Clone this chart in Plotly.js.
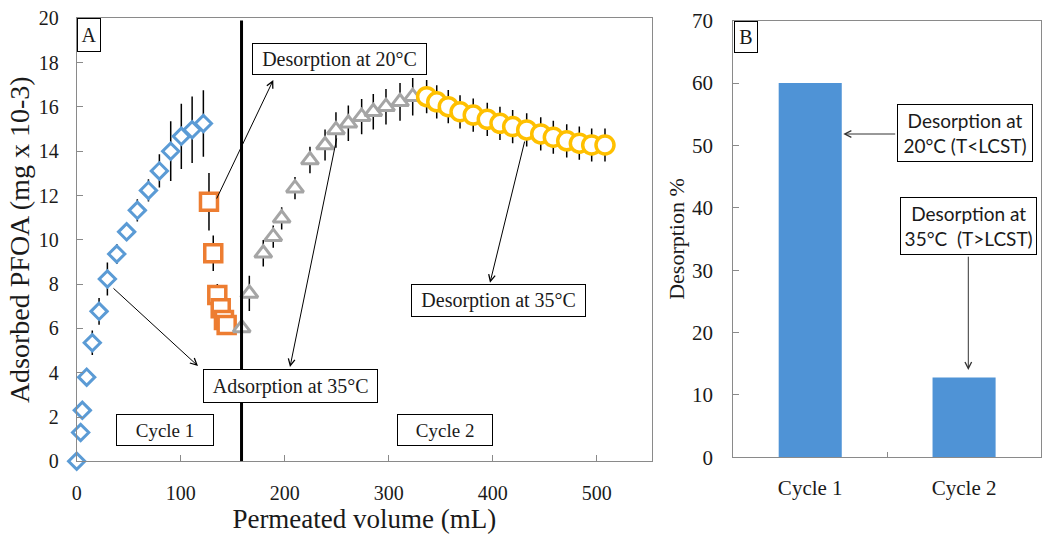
<!DOCTYPE html>
<html><head><meta charset="utf-8">
<script src="https://cdn.plot.ly/plotly-3.0.1.min.js"></script>
<style>html,body{margin:0;padding:0;background:#fff}#chart{width:1050px;height:543px}</style>
</head><body><div id="chart"></div>
<script>
// ---- Panel A: adsorbed PFOA vs permeated volume ----
const cycle1AdsVolume = [0, 3.8, 5.4, 9.6, 15, 21.5, 29.5, 38.5, 48, 58.3, 69, 79.5, 90.4, 100.6, 111, 121.8];
const cycle1AdsPFOA   = [0, 1.3, 2.3, 3.8, 5.35, 6.77, 8.23, 9.36, 10.36, 11.33, 12.23, 13.11, 14.0, 14.67, 14.97, 15.25];
const cycle1AdsErr    = [0, 0, 0, 0, 0.55, 0.6, 0.75, 0.45, 0.4, 0.5, 0.5, 0.75, 1.35, 1.47, 1.5, 1.5];

const des20Volume = [127.2, 131.3, 135.2, 138.5, 141.6, 144.2];
const des20PFOA   = [11.72, 9.39, 7.51, 6.91, 6.38, 6.15];
const des20Err    = [1.3, 0.8, 0.5, 0, 0, 0.3];

const cycle2AdsVolume = [158.7, 166, 179.4, 189, 197.1, 209.9, 224.3, 238.8, 249.3, 261.2, 274, 285.2, 297.4, 310.9, 323.1];
const cycle2AdsPFOA   = [6.02, 7.58, 9.39, 10.14, 10.97, 12.33, 13.6, 14.28, 14.96, 15.26, 15.56, 15.78, 16.01, 16.23, 16.46];
const cycle2AdsErr    = [0, 0.8, 0.6, 0.5, 0.5, 0.5, 0.6, 0.7, 0.8, 0.8, 0.8, 0.8, 0.8, 0.85, 0.85];

const des35Volume = [336.5, 346.2, 357.3, 368.6, 381.3, 394.8, 407, 419.2, 432.7, 446.2, 458.3, 471.2, 483.3, 495.2, 508];
const des35PFOA   = [16.46, 16.23, 16.01, 15.78, 15.63, 15.44, 15.26, 15.11, 14.96, 14.78, 14.63, 14.47, 14.36, 14.28, 14.28];
const des35Err    = [0.75, 0.75, 0.75, 0.75, 0.75, 0.75, 0.75, 0.75, 0.75, 0.75, 0.75, 0.75, 0.75, 0.75, 0.75];

const cycleSplitVolume = 158.5;
const xTickValsA = [0, 100, 200, 300, 400, 500];
const yTickValsA = [0, 2, 4, 6, 8, 10, 12, 14, 16, 18, 20];

// ---- Panel B: desorption % ----
const barCategories = ['Cycle 1', 'Cycle 2'];
const desorptionPercent = [60, 12.8];
const yTickValsB = [0, 10, 20, 30, 40, 50, 60, 70];

const W = 1050, H = 543;
const SERIF = 'Liberation Serif, Times New Roman, serif';
const SANS = 'Lato, Liberation Sans, sans-serif';
const AX = '#8a8a8a';
const TXT = '#1a1a1a';
const px = v => v / W;
const py = v => 1 - v / H;

function scat(x, y, err, symbol, size, color, lw) {
  return {
    type: 'scatter', mode: 'markers', x, y, xaxis: 'x', yaxis: 'y', cliponaxis: false,
    marker: {symbol, size, color: '#ffffff', line: {color, width: lw}},
    error_y: {type: 'data', array: err, visible: true, color: '#000', thickness: 1.5, width: 0},
    hoverinfo: 'skip', showlegend: false
  };
}

const data = [
  scat(cycle1AdsVolume, cycle1AdsPFOA, cycle1AdsErr, 'diamond', 12.5, '#5B9BD5', 3),
  scat(des20Volume, des20PFOA, des20Err, 'square', 17, '#ED7D31', 3.5),
  scat(cycle2AdsVolume, cycle2AdsPFOA, cycle2AdsErr, 'triangle-up', 15, '#A5A5A5', 3),
  scat(des35Volume, des35PFOA, des35Err, 'circle', 18, '#FFC000', 3.5),
  {
    type: 'bar', x: barCategories, y: desorptionPercent, xaxis: 'x2', yaxis: 'y2',
    marker: {color: '#4F93D6', line: {width: 0}}, hoverinfo: 'skip', showlegend: false
  }
];

function box(left, top, right, bottom, text, font) {
  return {
    xref: 'paper', yref: 'paper', x: px(left), y: py(top), xanchor: 'left', yanchor: 'top',
    text, showarrow: false, bordercolor: '#000', borderwidth: 1, borderpad: 0,
    width: right - left - 2, height: bottom - top - 2, bgcolor: '#ffffff',
    align: 'center', valign: 'middle', font
  };
}
function arrow(hx, hy, tx, ty, color) {
  return {
    xref: 'paper', yref: 'paper', x: px(hx), y: py(hy), axref: 'pixel', ayref: 'pixel',
    ax: tx - hx, ay: ty - hy, text: '', showarrow: true, arrowhead: 5, arrowsize: 1.3,
    arrowwidth: 1, arrowcolor: color || '#000', standoff: 0, startstandoff: 0
  };
}
const fSerif = {family: SERIF, size: 20, color: TXT};
const fSerif19 = {family: SERIF, size: 19, color: TXT};
const fSans = {family: SANS, size: 19, color: TXT};

const annotations = [
  box(76.7, 18.3, 100.7, 52.3, 'A', fSerif),
  box(251.7, 42.7, 426.7, 75, 'Desorption at 20°C', fSerif),
  box(202.7, 369.3, 378, 403.3, 'Adsorption at 35°C', fSerif),
  box(410.7, 284, 586, 316.7, 'Desorption at 35°C', fSerif),
  box(116, 414.3, 214, 446.5, 'Cycle 1', fSerif19),
  box(396.7, 414.3, 493, 446.5, 'Cycle 2', fSerif19),
  arrow(273.3, 80, 216, 200),
  arrow(198, 366, 112, 287),
  arrow(290, 367, 337, 137),
  arrow(490, 282.7, 525, 140),
  box(734.3, 20.7, 758.3, 52.3, 'B', fSerif),
  box(896.7, 104, 1032.7, 161.7, 'Desorption at<br>20°C (T&lt;LCST)', fSans),
  box(900, 197.3, 1037.3, 255.2, 'Desorption at<br>35°C  (T&gt;LCST)', fSans),
  arrow(843.3, 134, 896.7, 134, '#333'),
  arrow(968.3, 370, 968.3, 255.2, '#333')
];

const layout = {
  width: W, height: H,
  margin: {l: 0, r: 0, t: 0, b: 0, pad: 0},
  paper_bgcolor: '#fff', plot_bgcolor: '#fff',
  showlegend: false, bargap: 0.59,
  xaxis: {
    domain: [px(76.7), px(652)], range: [0, 553.2], tickvals: xTickValsA,
    ticks: 'inside', ticklen: 6, tickcolor: AX, showline: true, mirror: true, linecolor: AX, linewidth: 1,
    showgrid: false, zeroline: false, tickfont: {family: SERIF, size: 20, color: TXT}, ticklabelstandoff: 14,
    title: {text: 'Permeated volume (mL)', font: {family: SERIF, size: 27, color: TXT}, standoff: 5},
    automargin: false, anchor: 'y'
  },
  yaxis: {
    domain: [py(461.3), py(18.3)], range: [0, 20], tickvals: yTickValsA,
    ticks: 'inside', ticklen: 6, tickcolor: AX, showline: true, mirror: true, linecolor: AX, linewidth: 1,
    showgrid: false, zeroline: false, tickfont: {family: SERIF, size: 20, color: TXT}, ticklabelstandoff: 13,
    title: {text: 'Adsorbed PFOA (mg x 10-3)', font: {family: SERIF, size: 28, color: TXT}, standoff: 0},
    automargin: false, anchor: 'x'
  },
  xaxis2: {
    domain: [px(733.3), px(1041)], type: 'category', range: [-0.5, 1.5],
    ticks: 'inside', tickson: 'boundaries', ticklen: 5, tickcolor: AX,
    showline: true, mirror: true, linecolor: AX, linewidth: 1, showgrid: false, zeroline: false,
    tickfont: {family: SERIF, size: 21, color: TXT}, ticklabelstandoff: 11, automargin: false, anchor: 'y2'
  },
  yaxis2: {
    domain: [py(457.3), py(20.7)], range: [0, 70], tickvals: yTickValsB,
    ticks: 'inside', ticklen: 6, tickcolor: AX, showline: true, mirror: true, linecolor: AX, linewidth: 1,
    showgrid: false, zeroline: false, tickfont: {family: SERIF, size: 21, color: TXT}, ticklabelstandoff: 15,
    title: {text: 'Desorption %', font: {family: SERIF, size: 22, color: TXT}, standoff: 1},
    automargin: false, anchor: 'x2'
  },
  shapes: [
    {type: 'line', xref: 'x', yref: 'y', x0: cycleSplitVolume, x1: cycleSplitVolume, y0: 0, y1: 19.9,
     line: {color: '#000', width: 3}}
  ],
  annotations
};

Plotly.newPlot('chart', data, layout, {staticPlot: true, displayModeBar: false});
</script>
</body></html>
